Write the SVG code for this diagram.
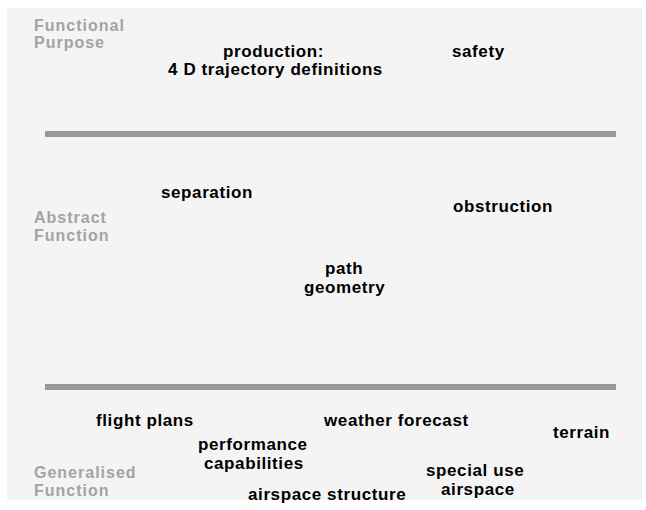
<svg xmlns="http://www.w3.org/2000/svg" width="646" height="510" viewBox="0 0 646 510">
<style>
.bg{fill:#f4f4f4}
.sep{stroke:#999;stroke-width:6;fill:none}
.t{font-family:"Liberation Sans",Arial,sans-serif;font-weight:bold;font-size:17px;letter-spacing:0.6px;fill:#000}
.lv{font-family:"Liberation Sans",Arial,sans-serif;font-weight:bold;font-size:16px;letter-spacing:1px;fill:#a3a3a3}
</style>
<rect width="646" height="510" fill="#fff"/>
<rect class="bg" x="7" y="8" width="635" height="492"/>
<g id="levels">
<text class="lv" x="34" y="31">Functional</text>
<text class="lv" x="34" y="48">Purpose</text>
<text class="lv" x="34" y="223">Abstract</text>
<text class="lv" x="34" y="241">Function</text>
<text class="lv" x="34" y="478">Generalised</text>
<text class="lv" x="34" y="496">Function</text>
</g>
<g id="dividers">
<line class="sep" x1="45" y1="134" x2="616" y2="134"/>
<line class="sep" x1="45" y1="387" x2="616" y2="387"/>
</g>
<g id="production"><text class="t" x="223" y="57">production:</text><text class="t" x="168" y="75">4 D trajectory definitions</text></g>
<g id="safety"><text class="t" x="452" y="57">safety</text></g>
<g id="separation"><text class="t" x="161" y="198">separation</text></g>
<g id="obstruction"><text class="t" x="453" y="212">obstruction</text></g>
<g id="path-geometry"><text class="t" x="325" y="274">path</text><text class="t" x="304" y="293">geometry</text></g>
<g id="flight-plans"><text class="t" x="96" y="426">flight plans</text></g>
<g id="weather-forecast"><text class="t" x="324" y="426">weather forecast</text></g>
<g id="terrain"><text class="t" x="553" y="438">terrain</text></g>
<g id="performance"><text class="t" x="198" y="450">performance</text><text class="t" x="204" y="469">capabilities</text></g>
<g id="special-use"><text class="t" x="426" y="476">special use</text><text class="t" x="441" y="495">airspace</text></g>
<g id="airspace-structure"><text class="t" x="248" y="500">airspace structure</text></g>
<g id="connectors"></g>
</svg>
